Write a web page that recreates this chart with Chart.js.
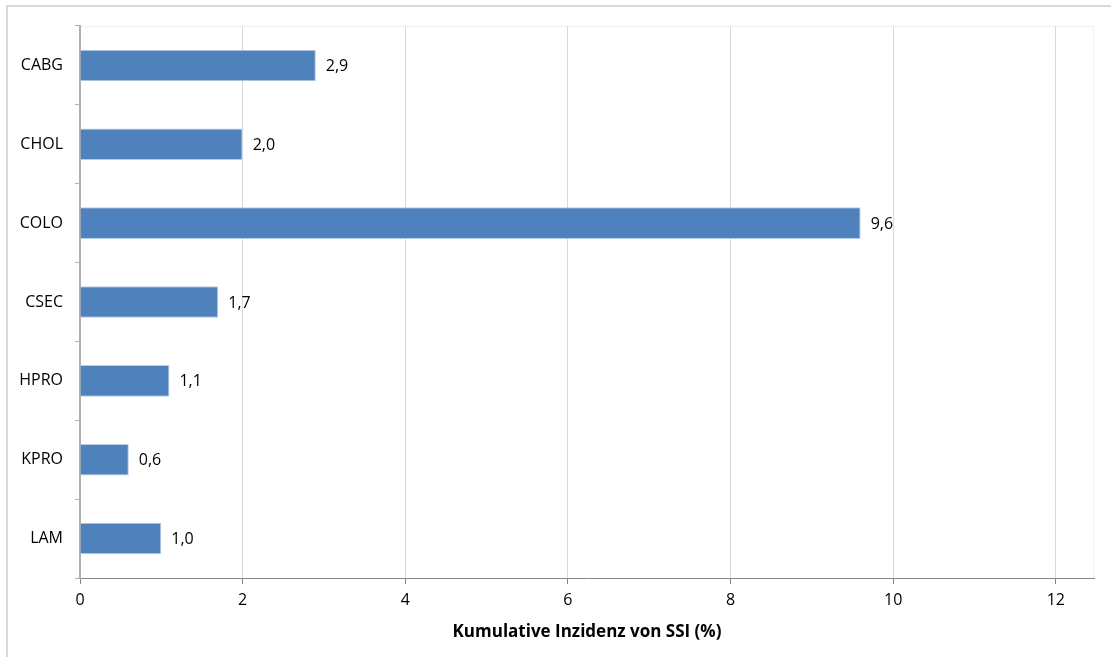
<!DOCTYPE html>
<html>
<head>
<meta charset="utf-8">
<script src="https://cdn.jsdelivr.net/npm/chart.js@4.4.1/dist/chart.umd.min.js"></script>
<style>
    html, body { margin: 0; padding: 0; background: #fff; }
    #wrap { width: 1111px; height: 657px; position: relative; }
</style>
</head>
<body>
<div id="wrap"><canvas id="ssiChart"></canvas></div>
<script>
// OP-Arten und kumulative Inzidenz (%)
const categories = ['CABG', 'CHOL', 'COLO', 'CSEC', 'HPRO', 'KPRO', 'LAM'];
const incidence = [2.9, 2.0, 9.6, 1.7, 1.1, 0.6, 1.0];
const xTicks = [0, 2, 4, 6, 8, 10, 12];
const xTitle = 'Kumulative Inzidenz von SSI (%)';

const fontFamily = "'Open Sans', 'Liberation Sans', sans-serif";

// Rahmen um das Diagramm und dünner Rand um die Zeichenfläche
const framePlugin = {
    id: 'frame',
    beforeDraw(chart) {
        const ctx = chart.ctx;
        const a = chart.chartArea;
        ctx.save();
        ctx.fillStyle = '#fff';
        ctx.fillRect(0, 0, chart.width, chart.height);
        ctx.strokeStyle = '#d9d9d9';
        ctx.lineWidth = 2;
        ctx.beginPath();
        ctx.moveTo(7, chart.height);
        ctx.lineTo(7, 6);
        ctx.lineTo(chart.width, 6);
        ctx.stroke();
        ctx.strokeStyle = '#f0f0f0';
        ctx.lineWidth = 1;
        ctx.beginPath();
        ctx.moveTo(a.left, a.top + 0.5);
        ctx.lineTo(a.right - 0.5, a.top + 0.5);
        ctx.lineTo(a.right - 0.5, a.bottom);
        ctx.stroke();
        ctx.restore();
    }
};

// Werte rechts neben den Balken (Komma als Dezimaltrenner)
const valueLabels = {
    id: 'valueLabels',
    afterDatasetsDraw(chart) {
        const ctx = chart.ctx;
        const meta = chart.getDatasetMeta(0);
        ctx.save();
        ctx.font = '16px ' + fontFamily;
        ctx.fillStyle = '#000';
        ctx.textAlign = 'left';
        ctx.textBaseline = 'middle';
        meta.data.forEach((bar, i) => {
            const text = incidence[i].toFixed(1).replace('.', ',');
            ctx.fillText(text, bar.x + 10, bar.y + 1);
        });
        ctx.restore();
    }
};

const ctx = document.getElementById('ssiChart').getContext('2d');
new Chart(ctx, {
    type: 'bar',
    data: {
        labels: categories,
        datasets: [{
            data: incidence,
            backgroundColor: '#4f81bd',
            borderColor: '#b9cde5',
            borderWidth: 1,
            barPercentage: 0.4,
            categoryPercentage: 1.0
        }]
    },
    options: {
        indexAxis: 'y',
        responsive: true,
        maintainAspectRatio: false,
        animation: false,
        layout: {
            padding: { left: 0, right: 17, top: 26, bottom: 0 }
        },
        plugins: {
            legend: { display: false },
            tooltip: { enabled: false }
        },
        scales: {
            x: {
                min: 0,
                max: 12.47,
                afterBuildTicks: (axis) => {
                    axis.ticks = xTicks.map(v => ({ value: v }));
                },
                afterFit: (axis) => { axis.height = 79; },
                grid: {
                    color: '#d9d9d9',
                    tickColor: '#868686',
                    tickLength: 6
                },
                border: { color: '#868686', width: 1 },
                ticks: {
                    color: '#000',
                    padding: 7,
                    font: { family: fontFamily, size: 16 }
                },
                title: {
                    display: true,
                    text: xTitle,
                    color: '#000',
                    padding: { top: 4, bottom: 15 },
                    font: { family: fontFamily, size: 17, weight: 'bold' }
                }
            },
            y: {
                afterFit: (axis) => { axis.width = 80; },
                grid: {
                    drawOnChartArea: false,
                    tickColor: '#b0b0b0',
                    tickLength: 5
                },
                border: { color: '#b0b0b0', width: 2 },
                ticks: {
                    color: '#000',
                    padding: 12,
                    font: { family: fontFamily, size: 16 }
                }
            }
        }
    },
    plugins: [framePlugin, valueLabels]
});
</script>
</body>
</html>
